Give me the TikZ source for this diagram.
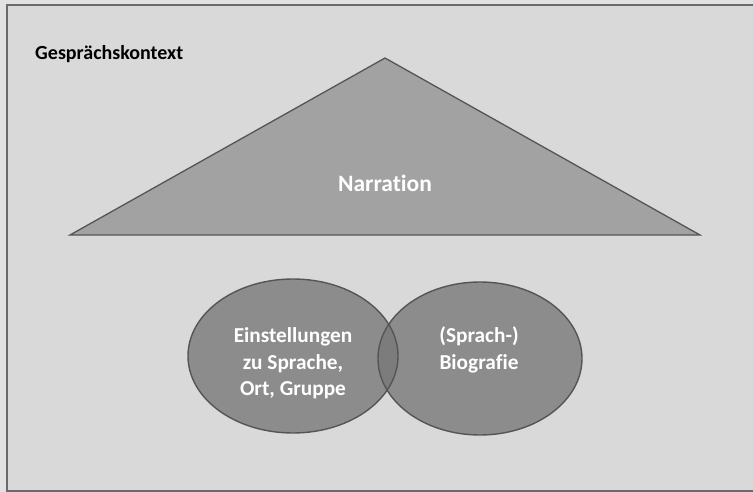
\documentclass[tikz,border=0pt]{standalone}
\usepackage{fontspec}
\setmainfont[Ligatures={NoCommon}]{Carlito}
\usetikzlibrary{shapes.geometric}
\definecolor{pagebg}{HTML}{E2E2E2}
\definecolor{panelbg}{HTML}{D9D9D9}
\definecolor{framecol}{HTML}{6A6A6A}
\definecolor{edgecol}{HTML}{555555}
\definecolor{trifill}{HTML}{A2A2A2}
\definecolor{blobfill}{HTML}{797979}
\tikzset{
  panel/.style={draw=framecol, line width=2pt, fill=panelbg},
  pyramid/.style={draw=edgecol, line width=1.3pt, fill=trifill, line join=miter},
  blob/.style={ellipse, fill=blobfill, fill opacity=0.8, inner sep=0pt},
  blobedge/.style={ellipse, draw=edgecol, line width=1.4pt, inner sep=0pt},
  caption/.style={text=black, font=\bfseries\fontsize{20}{24}\selectfont, inner sep=0pt},
  whitelabel/.style={text=white, align=center, inner sep=0pt,
    font=\bfseries\fontsize{21.3}{26.5}\selectfont},
}
\begin{document}
\begin{tikzpicture}[x=1pt,y=-1pt]
  \useasboundingbox (0,0) rectangle (753,492);
  \fill[pagebg] (0,0) rectangle (753,492);
  % framed context panel
  \draw[panel] (6.5,5.5) rectangle (770,491);
  \node[caption, anchor=base west] (ctx) at (35,60) {Gesprächskontext};
  % narration triangle
  \coordinate (tl) at (70,235);
  \coordinate (tt) at (385,58);
  \coordinate (tr) at (700,235);
  \draw[pyramid] (tl) -- (tt) -- (tr) -- cycle;
  \node[text=white, inner sep=0pt, font=\bfseries\fontsize{23.5}{28}\selectfont] (narr) at (385,183) {Narration};
  % two overlapping ellipses
  \node[blob, minimum width=210pt, minimum height=154pt] (left) at (293,356) {};
  \node[blob, minimum width=204pt, minimum height=153pt] (right) at (480,358.5) {};
  \node[blobedge, minimum width=210pt, minimum height=154pt] (leftedge) at (left.center) {};
  \node[blobedge, minimum width=204pt, minimum height=153pt] (rightedge) at (right.center) {};
  \node[whitelabel] (lefttext) at (293,363.5) {Einstellungen\\zu Sprache,\\Ort, Gruppe};
  \node[whitelabel] (righttext) at (479,350) {(Sprach-)\\Biografie};
\end{tikzpicture}
\end{document}
